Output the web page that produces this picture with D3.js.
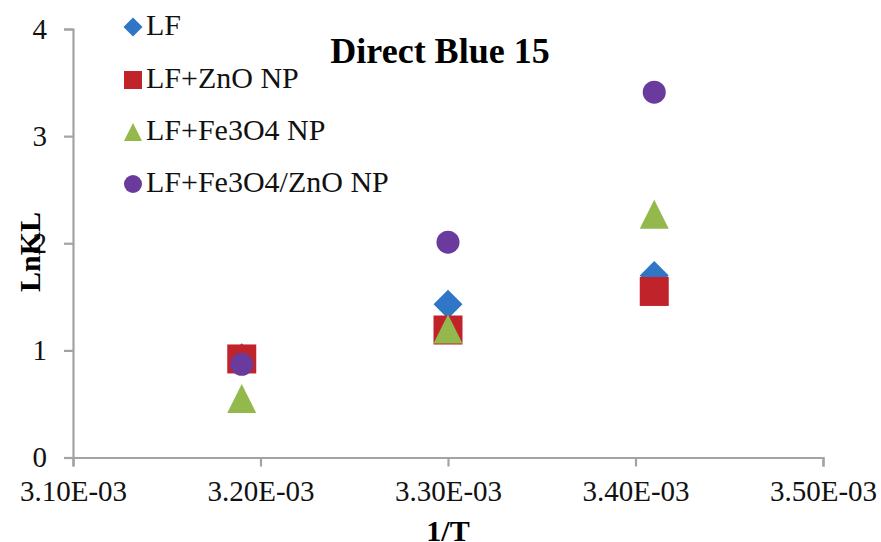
<!DOCTYPE html>
<html><head><meta charset="utf-8">
<script src="https://cdn.jsdelivr.net/npm/d3@7"></script>
<style>body{margin:0;background:#fff}svg{display:block}svg text{font-family:"Liberation Serif","Times New Roman",serif !important}</style>
</head><body><svg id="c" width="881" height="542"></svg>
<script>
const xValues = [0.00319, 0.00330, 0.00341];
const seriesNames = ["LF", "LF+ZnO NP", "LF+Fe3O4 NP", "LF+Fe3O4/ZnO NP"];
const lfValues = [0.93, 1.43, 1.70];
const znoValues = [0.92, 1.19, 1.55];
const fe3o4Values = [0.55, 1.20, 2.27];
const fe3o4znoValues = [0.87, 2.01, 3.41];
const xTicks = [0.0031, 0.0032, 0.0033, 0.0034, 0.0035];
const xTickLabels = ["3.10E-03", "3.20E-03", "3.30E-03", "3.40E-03", "3.50E-03"];
const yTicks = [0, 1, 2, 3, 4];
const title = "Direct Blue 15";
const xTitle = "1/T";
const yTitle = "LnKL";

const colors = ["#2f77c6", "#c1232b", "#93b94d", "#6a3a9c"];
const shapes = ["diamond", "square", "triangle", "circle"];
const allValues = [lfValues, znoValues, fe3o4Values, fe3o4znoValues];

const svg = d3.select("#c");
const x = d3.scaleLinear().domain([0.0031, 0.0035]).range([73, 823]);
const y = d3.scaleLinear().domain([0, 4]).range([457.5, 29]);

const axisColor = "#a3a3a3";
const serif = '"Liberation Serif","Times New Roman",serif';
// X axis
const gx = svg.append("g").attr("transform", `translate(0,${y(0)})`)
  .call(d3.axisBottom(x).tickValues(xTicks).tickFormat((d,i)=>xTickLabels[i]).tickSizeOuter(0).tickSize(9).tickPadding(14));
gx.select(".domain").attr("stroke", axisColor).attr("stroke-width", 2.2);
gx.selectAll(".tick line").attr("stroke", axisColor).attr("stroke-width", 2.2);
gx.selectAll(".tick text").style("font-size", "29px").style("font-family", serif).attr("fill", "#111");
// Y axis
const gy = svg.append("g").attr("transform", `translate(${x(0.0031)},0)`)
  .call(d3.axisLeft(y).tickValues(yTicks).tickFormat(d3.format("d")).tickSizeOuter(0).tickSize(9).tickPadding(17));
gy.select(".domain").attr("stroke", axisColor).attr("stroke-width", 2.2);
gy.selectAll(".tick line").attr("stroke", axisColor).attr("stroke-width", 2.2);
gy.selectAll(".tick text").style("font-size", "29px").style("font-family", serif).attr("fill", "#111");

function shapePath(shape, s) {
  const h = s / 2;
  if (shape === "diamond") return `M0,${-h}L${h},0L0,${h}L${-h},0Z`;
  if (shape === "square") return `M${-h},${-h}H${h}V${h}H${-h}Z`;
  if (shape === "triangle") return `M0,${-h}L${h},${h}L${-h},${h}Z`;
  return `M${h},0A${h},${h},0,1,1,${-h},0A${h},${h},0,1,1,${h},0Z`;
}
const markerSize = {diamond: 29, square: 29, triangle: 29, circle: 23};

allValues.forEach((vals, si) => {
  svg.append("g").selectAll("path").data(vals).join("path")
    .attr("transform", (d, i) => `translate(${x(xValues[i])},${y(d)})`)
    .attr("d", shapePath(shapes[si], markerSize[shapes[si]]))
    .attr("fill", colors[si]);
});

// Legend
const legY = [27, 80, 132, 184];
const leg = svg.append("g");
seriesNames.forEach((name, i) => {
  leg.append("path").attr("transform", `translate(133,${legY[i]})`)
    .attr("d", shapePath(shapes[i], shapes[i] === "diamond" ? 19 : 18)).attr("fill", colors[i]);
  leg.append("text").attr("x", 146).attr("y", legY[i] + 8).style("font-size", "30px").attr("fill", "#111").text(name);
});

// Title
svg.append("text").attr("x", 440).attr("y", 63).attr("text-anchor", "middle")
  .style("font-size", "36px").attr("font-weight", "bold").attr("fill", "#000").text(title);
// axis titles
svg.append("text").attr("x", 448).attr("y", 541).attr("text-anchor", "middle")
  .style("font-size", "30px").attr("font-weight", "bold").attr("fill", "#000").text(xTitle);
svg.append("text").attr("transform", "translate(40,252) rotate(-90)").attr("text-anchor", "middle")
  .style("font-size", "30px").attr("font-weight", "bold").attr("fill", "#000").text(yTitle);
</script></body></html>
